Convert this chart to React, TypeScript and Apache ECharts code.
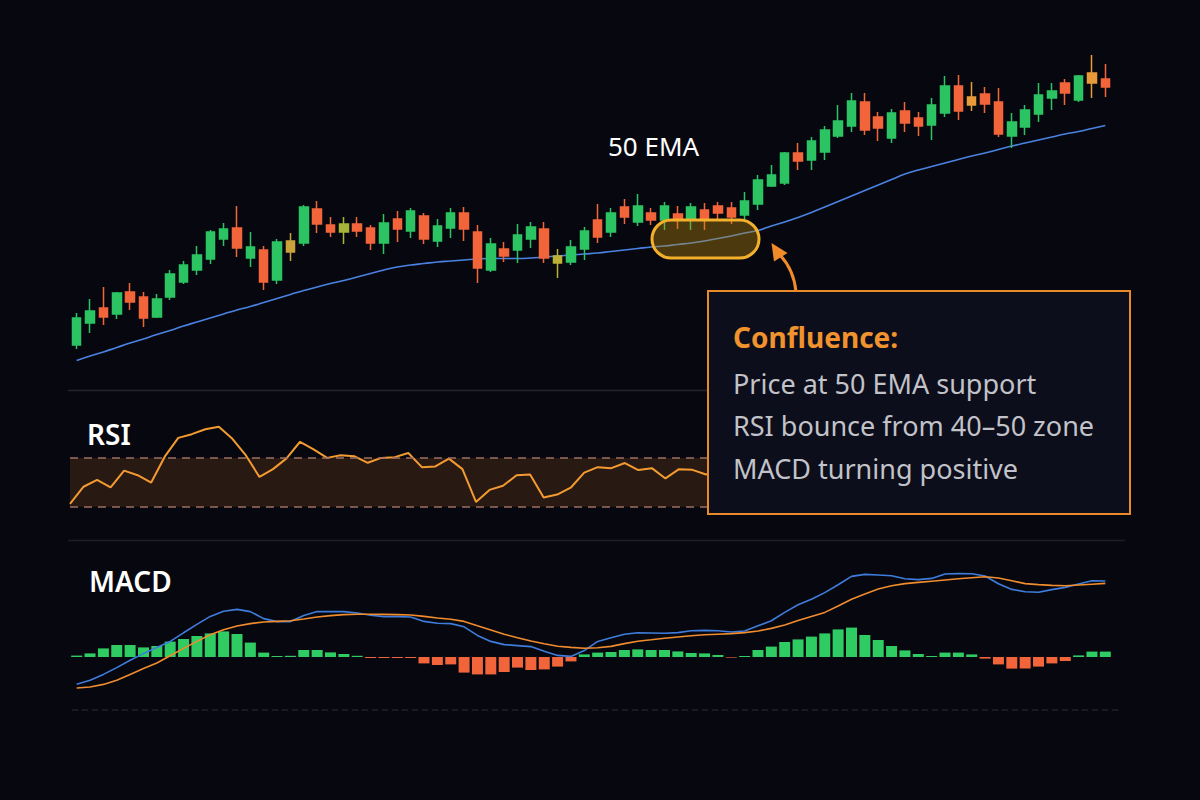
import { useEffect, useRef } from "react";
import * as echarts from "echarts";

// OHLC: [open, close, low, high]
const candles: number[][] = [
  [103.0, 108.4, 102.2, 109.4], [107.4, 109.8, 105.4, 112.2], [110.4, 108.6, 107.0, 114.6], [109.2, 113.4, 108.2, 113.6],
  [113.6, 111.6, 110.0, 115.4], [112.6, 108.4, 106.6, 113.6], [108.6, 112.2, 108.4, 113.2], [112.6, 117.2, 112.0, 118.0],
  [115.6, 119.0, 115.2, 119.8], [118.0, 121.0, 117.0, 122.8], [120.2, 125.6, 119.2, 126.0], [124.2, 126.2, 122.8, 127.4],
  [126.4, 122.4, 120.6, 130.8], [120.4, 122.6, 118.6, 125.6], [122.0, 115.6, 114.0, 122.8], [116.0, 123.6, 115.2, 124.2],
  [121.6, 123.8, 119.8, 125.4], [123.4, 130.6, 122.8, 131.0], [130.2, 127.2, 125.4, 131.8], [127.0, 125.6, 124.6, 128.6],
  [125.6, 127.2, 123.2, 128.6], [127.2, 125.8, 124.6, 128.6], [126.4, 123.4, 122.0, 127.0], [123.4, 127.4, 121.2, 129.2],
  [128.2, 126.2, 123.6, 129.8], [125.8, 129.8, 124.4, 130.4], [128.8, 124.2, 123.2, 129.4], [123.8, 126.8, 122.6, 128.2],
  [126.4, 129.4, 124.4, 130.4], [129.4, 126.2, 123.8, 130.6], [125.6, 118.4, 115.4, 127.0], [118.0, 123.2, 117.6, 124.4],
  [122.2, 120.8, 119.6, 123.6], [122.0, 125.0, 119.4, 127.2], [124.2, 126.6, 122.4, 127.6], [126.2, 120.4, 119.4, 127.6],
  [119.4, 120.8, 116.4, 122.2], [119.6, 122.6, 119.0, 124.0], [122.2, 125.8, 120.0, 126.6], [128.0, 124.6, 123.4, 131.2],
  [125.6, 129.4, 124.6, 130.4], [130.6, 128.6, 127.2, 132.2], [127.6, 130.8, 126.8, 133.2], [129.4, 128.0, 127.0, 130.4],
  [128.0, 130.8, 126.0, 131.6], [129.2, 128.0, 126.2, 130.8], [128.0, 130.6, 126.0, 131.4], [130.0, 128.0, 126.0, 131.4],
  [130.8, 129.4, 128.0, 131.6], [130.4, 128.6, 127.2, 131.6], [129.0, 131.8, 128.0, 133.6], [131.2, 136.0, 130.0, 137.0],
  [134.8, 137.0, 134.6, 139.0], [135.4, 141.4, 135.0, 141.6], [141.4, 139.8, 138.0, 143.4], [140.0, 143.8, 138.0, 144.6],
  [141.6, 146.0, 140.0, 146.8], [144.8, 147.8, 144.4, 151.0], [146.8, 151.8, 145.6, 153.4], [151.6, 146.0, 145.0, 153.4],
  [148.6, 146.4, 143.8, 149.6], [144.4, 149.4, 143.4, 150.2], [149.8, 147.4, 145.6, 151.6], [148.4, 146.8, 144.8, 149.6],
  [147.0, 151.0, 144.0, 152.4], [149.4, 154.8, 148.6, 156.8], [154.8, 149.8, 148.0, 157.0], [152.6, 151.0, 149.8, 155.6],
  [153.2, 151.2, 149.4, 154.6], [151.6, 145.2, 144.6, 154.4], [144.8, 147.6, 142.4, 149.4], [146.6, 150.0, 145.0, 151.0],
  [149.2, 153.0, 147.6, 155.4], [152.4, 153.8, 150.0, 155.4], [155.4, 153.4, 151.0, 156.2], [152.0, 156.8, 151.6, 157.0],
  [157.4, 155.4, 152.4, 161.0], [156.2, 154.6, 152.6, 159.2],
];

// candles drawn in a neutral (gold / olive) tint
const candleTints: [number, string][] = [
  [16, "#c9a23c"], [20, "#a8b43a"], [36, "#bcb136"], [67, "#e89a3a"], [76, "#e89a3a"],
];

const ema50 = [
  99.9, 100.8, 101.6, 102.5, 103.4, 104.2, 105.1, 105.9, 106.8, 107.6,
  108.4, 109.2, 110.0, 110.7, 111.5, 112.3, 113.1, 113.9, 114.6, 115.3,
  115.9, 116.6, 117.3, 118.0, 118.6, 119.0, 119.3, 119.6, 119.8, 120.0,
  120.2, 120.3, 120.3, 120.3, 120.4, 120.6, 120.8, 121.0, 121.2, 121.4,
  121.7, 122.0, 122.3, 122.6, 122.8, 123.1, 123.4, 123.8, 124.3, 124.8,
  125.4, 125.9, 126.8, 127.6, 128.5, 129.5, 130.6, 131.7, 132.8, 133.9,
  135.0, 136.1, 137.2, 138.0, 138.7, 139.4, 140.1, 140.8, 141.4, 142.1,
  142.8, 143.4, 144.0, 144.6, 145.2, 145.7, 146.3, 146.9,
];

const rsi = [
  41.2, 48.2, 51.0, 47.9, 54.8, 52.9, 49.9, 60.5, 68.2, 69.7,
  71.7, 72.7, 67.8, 61.0, 52.2, 55.4, 59.8, 66.6, 63.5, 60.0,
  61.1, 60.7, 58.0, 60.0, 60.3, 62.0, 56.2, 56.5, 59.7, 55.4,
  42.0, 46.9, 48.6, 52.9, 53.2, 43.8, 45.0, 47.8, 54.0, 56.2,
  55.8, 57.9, 55.0, 55.8, 51.6, 55.4, 55.1, 53.2, 55, 57,
  59, 58, 60, 62, 61, 63, 64, 62, 60, 61,
  63, 65, 64, 62, 60, 58, 57, 59, 61, 62,
  60, 61, 63, 64, 62, 63, 65, 64,
];
const rsiBand = [40, 60];

const macdHist = [
  0.07, 0.18, 0.43, 0.6, 0.6, 0.48, 0.55, 0.77, 0.9, 1.05,
  1.18, 1.28, 1.15, 0.72, 0.22, 0.05, 0.06, 0.35, 0.35, 0.23,
  0.15, 0.06, -0.05, -0.05, -0.05, -0.05, -0.32, -0.4, -0.37, -0.78,
  -0.87, -0.87, -0.75, -0.53, -0.65, -0.62, -0.48, -0.22, 0.13, 0.22,
  0.25, 0.35, 0.38, 0.35, 0.35, 0.28, 0.2, 0.18, 0.1, -0.03,
  0.05, 0.35, 0.52, 0.75, 0.88, 1.02, 1.18, 1.38, 1.47, 1.1,
  0.85, 0.55, 0.33, 0.15, 0.05, 0.22, 0.22, 0.13, -0.08, -0.37,
  -0.58, -0.58, -0.48, -0.32, -0.2, 0.08, 0.27, 0.27,
];

const macdLine = [
  -1.36, -1.16, -0.87, -0.53, -0.16, 0.17, 0.47, 0.78, 1.21, 1.63,
  2.03, 2.29, 2.38, 2.27, 1.92, 1.77, 1.77, 2.08, 2.27, 2.27,
  2.27, 2.2, 2.09, 2.02, 2.02, 2.0, 1.78, 1.69, 1.67, 1.51,
  1.08, 0.78, 0.62, 0.57, 0.52, 0.29, 0.08, 0.03, 0.32, 0.78,
  0.96, 1.14, 1.21, 1.2, 1.19, 1.22, 1.31, 1.33, 1.31, 1.25,
  1.3, 1.56, 1.81, 2.23, 2.61, 2.89, 3.22, 3.61, 4.03, 4.13,
  4.1, 4.06, 3.91, 3.87, 3.93, 4.15, 4.17, 4.16, 4.05, 3.66,
  3.38, 3.26, 3.24, 3.37, 3.48, 3.65, 3.81, 3.8,
];

const signalLine = [
  -1.55, -1.5, -1.37, -1.16, -0.87, -0.58, -0.3, 0.06, 0.43, 0.78,
  1.11, 1.36, 1.55, 1.67, 1.75, 1.78, 1.81, 1.9, 2.0, 2.07,
  2.12, 2.14, 2.14, 2.13, 2.12, 2.1, 2.03, 1.95, 1.89, 1.78,
  1.56, 1.35, 1.14, 0.96, 0.8, 0.66, 0.54, 0.48, 0.44, 0.46,
  0.53, 0.67, 0.79, 0.86, 0.94, 1.0, 1.06, 1.11, 1.14, 1.17,
  1.22, 1.3, 1.43, 1.6, 1.82, 2.03, 2.23, 2.55, 2.89, 3.15,
  3.4, 3.56, 3.67, 3.73, 3.79, 3.85, 3.91, 3.96, 4.01, 3.95,
  3.81, 3.67, 3.62, 3.58, 3.56, 3.6, 3.64, 3.68,
];

const categories = candles.map((_, i) => `D${i + 1}`);

const panelLabels = ["RSI", "MACD"];
const emaLabel = "50 EMA";
const boxTitle = "Confluence:";
const boxLines = ["Price at 50 EMA support", "RSI bounce from 40\u201350 zone", "MACD turning positive"];

const UP = "#2cc463";
const DOWN = "#f2643a";
const FONT = "'Noto Sans', 'Open Sans', sans-serif";

export default function App() {
  const ref = useRef<HTMLDivElement>(null);

  useEffect(() => {
    if (!ref.current) return;
    const chart = echarts.init(ref.current, null, { renderer: "svg" });
    const tint = new Map(candleTints);
    const candleData = candles.map((v, i) => {
      const c = tint.get(i);
      return c
        ? { value: v, itemStyle: { color: c, color0: c, borderColor: c, borderColor0: c } }
        : v;
    });

    chart.setOption({
      animation: false,
      backgroundColor: "#07080f",
      grid: [
        { left: 70, width: 1042, top: 40, height: 330 },
        { left: 70, width: 1042, top: 409, height: 110 },
        { left: 70, width: 1042, top: 557, height: 160 },
      ],
      xAxis: [
        { type: "category", data: categories, gridIndex: 0, show: false, boundaryGap: true },
        { type: "category", data: categories, gridIndex: 1, show: false, boundaryGap: false },
        { type: "category", data: categories, gridIndex: 2, show: false, boundaryGap: true },
      ],
      yAxis: [
        { type: "value", gridIndex: 0, min: 98, max: 164, show: false, splitLine: { show: false } },
        { type: "value", gridIndex: 1, min: 35, max: 80, show: false, splitLine: { show: false } },
        { type: "value", gridIndex: 2, min: -3, max: 5, show: false, splitLine: { show: false } },
      ],
      series: [
        {
          type: "candlestick",
          xAxisIndex: 0,
          yAxisIndex: 0,
          data: candleData,
          barWidth: 9,
          itemStyle: { color: UP, color0: DOWN, borderColor: UP, borderColor0: DOWN, borderWidth: 1.5 },
          z: 3,
        },
        {
          type: "line",
          xAxisIndex: 0,
          yAxisIndex: 0,
          data: ema50,
          showSymbol: false,
          smooth: 0.5,
          lineStyle: { color: "#4a82e2", width: 1.6 },
          z: 2,
        },
        {
          type: "line",
          xAxisIndex: 1,
          yAxisIndex: 1,
          data: rsi,
          showSymbol: false,
          lineStyle: { color: "#f39a30", width: 2 },
          markArea: {
            silent: true,
            itemStyle: { color: "rgba(214,112,40,0.17)" },
            data: [[{ yAxis: rsiBand[0] }, { yAxis: rsiBand[1] }]],
          },
          markLine: {
            silent: true,
            symbol: "none",
            label: { show: false },
            lineStyle: { color: "#9d6f63", type: [8, 6], width: 1.5 },
            data: rsiBand.map((v) => ({ yAxis: v })),
          },
        },
        {
          type: "bar",
          xAxisIndex: 2,
          yAxisIndex: 2,
          data: macdHist,
          barWidth: 11,
          itemStyle: { color: (p: any) => (p.value >= 0 ? "#2ecc62" : "#f2643a") },
        },
        {
          type: "line",
          xAxisIndex: 2,
          yAxisIndex: 2,
          data: macdLine,
          showSymbol: false,
          lineStyle: { color: "#3f7ddc", width: 1.6 },
        },
        {
          type: "line",
          xAxisIndex: 2,
          yAxisIndex: 2,
          data: signalLine,
          showSymbol: false,
          lineStyle: { color: "#f08c2e", width: 1.6 },
        },
      ],
      graphic: [
        { type: "line", z: 1, shape: { x1: 68, y1: 390.5, x2: 1125, y2: 390.5 }, style: { stroke: "#23232f", lineWidth: 1.5 } },
        { type: "line", z: 1, shape: { x1: 68, y1: 540.5, x2: 1125, y2: 540.5 }, style: { stroke: "#1d1d28", lineWidth: 1.5 } },
        { type: "line", z: 1, shape: { x1: 72, y1: 710, x2: 1118, y2: 710 }, style: { stroke: "#2c2c38", lineWidth: 1.2, lineDash: [6, 4] } },
        {
          type: "text", z: 60, x: 608, y: 146,
          style: { text: emaLabel, fill: "#ffffff", font: `400 26px ${FONT}`, textVerticalAlign: "middle", verticalAlign: "middle" },
        },
        {
          type: "text", z: 60, x: 87, y: 434,
          style: { text: panelLabels[0], fill: "#ffffff", font: `600 28px ${FONT}`, textVerticalAlign: "middle", verticalAlign: "middle" },
        },
        {
          type: "text", z: 60, x: 89, y: 581,
          style: { text: panelLabels[1], fill: "#ffffff", font: `600 28px ${FONT}`, textVerticalAlign: "middle", verticalAlign: "middle" },
        },
        {
          type: "rect", z: 50,
          shape: { x: 652, y: 220, width: 107, height: 38, r: 19 },
          style: { fill: "rgba(190,140,10,0.38)", stroke: "#f2b02c", lineWidth: 3 },
        },
        {
          type: "bezierCurve", z: 50,
          shape: { x1: 796, y1: 292, cpx1: 794, cpy1: 270, x2: 780, y2: 255 },
          style: { stroke: "#f08a2a", lineWidth: 3, fill: "none" },
        },
        {
          type: "polygon", z: 50,
          shape: { points: [[771.5, 243], [787.5, 253], [774, 261.5]] },
          style: { fill: "#f08a2a" },
        },
        {
          type: "rect", z: 100,
          shape: { x: 708, y: 291, width: 422, height: 223 },
          style: { fill: "#0c0e1b", stroke: "#e8892a", lineWidth: 2 },
        },
        {
          type: "text", z: 101, x: 733, y: 337,
          style: { text: boxTitle, fill: "#f0932e", font: `700 28px ${FONT}`, textVerticalAlign: "middle", verticalAlign: "middle" },
        },
        ...boxLines.map((t, i) => ({
          type: "text", z: 101, x: 733, y: 383 + i * 42.5,
          style: { text: t, fill: "#c2c2c9", font: `400 27px ${FONT}`, textVerticalAlign: "middle", verticalAlign: "middle" },
        })),
      ],
    });

    return () => chart.dispose();
  }, []);

  return (
    <div
      ref={ref}
      style={{ position: "fixed", left: 0, top: 0, width: 1200, height: 800, background: "#07080f" }}
    />
  );
}
